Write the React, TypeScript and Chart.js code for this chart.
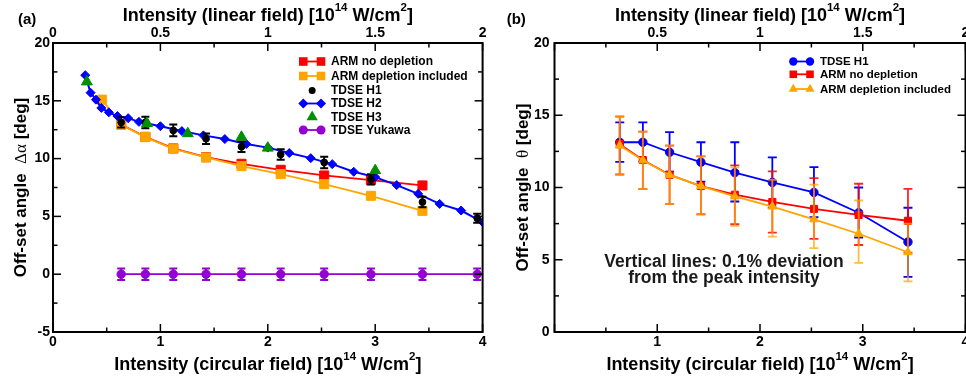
import React, { useEffect, useRef } from 'react';
import { Chart, registerables } from 'chart.js';

Chart.register(...registerables);

const FONT = '"Liberation Sans", Arial, Helvetica, sans-serif';
const SERIF = '"Liberation Serif", "DejaVu Serif", serif';

// ---------------- Panel (a) data ----------------
const aArmX = [0.635, 0.86, 1.12, 1.425, 1.755, 2.12, 2.525, 2.96, 3.44];
const aArmNoDep = [12.95, 11.88, 10.88, 10.12, 9.55, 9.03, 8.54, 8.14, 7.68];
const aArmDepX = [0.455, 0.635, 0.86, 1.12, 1.425, 1.755, 2.12, 2.525, 2.96, 3.44];
const aArmDep = [15.1, 12.93, 11.86, 10.85, 10.1, 9.35, 8.66, 7.79, 6.78, 5.48];
const aH1X = [0.635, 0.86, 1.12, 1.425, 1.755, 2.12, 2.525, 2.96, 3.44, 3.95];
const aH1 = [13.13, 13.13, 12.44, 11.72, 11.03, 10.36, 9.67, 8.2, 6.24, 4.84];
const aH1Err = [0.45, 0.5, 0.5, 0.45, 0.45, 0.45, 0.5, 0.45, 0.45, 0.4];
const aH2X = [0.3, 0.35, 0.4, 0.45, 0.52, 0.6, 0.7, 0.8, 1.0, 1.2, 1.4, 1.6, 1.8, 2.0, 2.2, 2.4, 2.6, 2.8, 3.0, 3.2, 3.4, 3.6, 3.8, 4.0];
const aH2 = [17.22, 15.7, 15.1, 14.38, 14.0, 13.68, 13.5, 13.18, 12.8, 12.38, 12.01, 11.69, 11.26, 10.95, 10.48, 10.04, 9.52, 8.86, 8.4, 7.71, 6.95, 6.08, 5.51, 4.5];
const aH3X = [0.315, 0.875, 1.255, 1.755, 2.0, 3.0];
const aH3 = [16.65, 13.05, 12.17, 11.86, 10.92, 8.97];
const aYukX = [0.635, 0.86, 1.12, 1.425, 1.755, 2.12, 2.525, 2.96, 3.44, 3.95];
const aYuk = [0, 0, 0, 0, 0, 0, 0, 0, 0, 0];
const aYukErr = [0.5, 0.5, 0.5, 0.5, 0.5, 0.5, 0.5, 0.5, 0.5, 0.5];

// ---------------- Panel (b) data ----------------
const bX = [0.635, 0.86, 1.12, 1.425, 1.755, 2.12, 2.525, 2.96, 3.44];
const bH1 = [13.13, 13.13, 12.44, 11.75, 11.03, 10.35, 9.66, 8.25, 6.23];
const bH1Lo = [11.78, 11.8, 11.1, 10.4, 9.03, 8.6, 7.94, 6.54, 3.82];
const bH1Hi = [14.51, 14.51, 13.83, 13.13, 13.13, 12.09, 11.41, 10.0, 8.6];
const bArmNoDep = [13.0, 11.9, 10.88, 10.1, 9.5, 9.0, 8.52, 8.1, 7.7];
const bArmNoDepLo = [10.9, 9.89, 8.87, 8.15, 7.46, 6.88, 6.44, 6.02, 5.5];
const bArmNoDepHi = [14.9, 13.87, 12.9, 12.15, 11.53, 11.11, 10.65, 10.26, 9.9];
const bArmDep = [12.9, 11.88, 10.87, 10.1, 9.38, 8.68, 7.8, 6.8, 5.52];
const bArmDepLo = [10.9, 9.89, 8.87, 8.15, 7.34, 6.6, 5.8, 4.79, 3.51];
const bArmDepHi = [14.93, 13.87, 12.92, 12.15, 11.39, 10.53, 10.2, 9.1, 7.5];

// ---------------- Axis ticks ----------------
const circTicksA = { min: 0, max: 4, step: 1 };
const linTicks = { min: 0, max: 2, step: 0.5 };
const yTicksA = { min: -5, max: 20, step: 5 };
const yTicksB = { min: 0, max: 20, step: 5 };

const RED = '#ff0000';
const ORANGE = '#ffa500';
const BLUE = '#0000ff';
const GREEN = '#009000';
const BLACK = '#000000';
const PURPLE = '#9400d3';

const bold = (px: number) => `bold ${px}px ${FONT}`;

function pts(xs: number[], ys: number[]) {
  return xs.map((x, i) => ({ x, y: ys[i] }));
}

function series(label: string, xs: number[], ys: number[], color: string, style: string, r: number, line: boolean, order: number, extra: any = {}) {
  return {
    label,
    data: pts(xs, ys),
    showLine: line,
    borderColor: color,
    backgroundColor: color,
    borderWidth: 1.8,
    pointStyle: style,
    pointRadius: r,
    pointBackgroundColor: color,
    pointBorderColor: color,
    pointBorderWidth: 1,
    order,
    ...extra,
  };
}

type Part = { text: string; font: string; dy?: number };

function drawRich(ctx: CanvasRenderingContext2D, parts: Part[], cx: number, baseline: number) {
  let total = 0;
  parts.forEach((p) => { ctx.font = p.font; total += ctx.measureText(p.text).width; });
  let x = cx - total / 2;
  ctx.textAlign = 'left';
  ctx.textBaseline = 'alphabetic';
  parts.forEach((p) => {
    ctx.font = p.font;
    ctx.fillText(p.text, x, baseline + (p.dy || 0));
    x += ctx.measureText(p.text).width;
  });
}

function intensityParts(kind: string): Part[] {
  return [
    { text: `Intensity (${kind} field) [10`, font: bold(18) },
    { text: '14', font: bold(11.5), dy: -10.5 },
    { text: ' W/cm', font: bold(18) },
    { text: '2', font: bold(11.5), dy: -10.5 },
    { text: ']', font: bold(18) },
  ];
}

function drawMarker(ctx: CanvasRenderingContext2D, style: string, x: number, y: number, r: number, color: string) {
  ctx.fillStyle = color;
  ctx.beginPath();
  if (style === 'circle') ctx.arc(x, y, r, 0, Math.PI * 2);
  else if (style === 'rect') ctx.rect(x - r, y - r, 2 * r, 2 * r);
  else if (style === 'rectRot') {
    ctx.moveTo(x, y - r); ctx.lineTo(x + r, y); ctx.lineTo(x, y + r); ctx.lineTo(x - r, y); ctx.closePath();
  } else if (style === 'triangle') {
    ctx.moveTo(x, y - r); ctx.lineTo(x + r * 0.866, y + r * 0.5); ctx.lineTo(x - r * 0.866, y + r * 0.5); ctx.closePath();
  }
  ctx.fill();
}

const panelPlugin = {
  id: 'panel',
  beforeDatasetDraw(chart: any, args: any) {
    const ds: any = chart.data.datasets[args.index];
    if (!ds.errLo) return;
    const xs = chart.scales.x;
    const ys = chart.scales.y;
    const ctx: CanvasRenderingContext2D = chart.ctx;
    const cap = ds.errCap;
    ctx.save();
    ctx.strokeStyle = ds.errColor;
    ctx.lineWidth = ds.errWidth;
    ctx.beginPath();
    ds.data.forEach((p: any, i: number) => {
      const px = xs.getPixelForValue(p.x);
      const y1 = ys.getPixelForValue(ds.errLo[i]);
      const y2 = ys.getPixelForValue(ds.errHi[i]);
      ctx.moveTo(px, y1); ctx.lineTo(px, y2);
      ctx.moveTo(px - cap, y1); ctx.lineTo(px + cap, y1);
      ctx.moveTo(px - cap, y2); ctx.lineTo(px + cap, y2);
    });
    ctx.stroke();
    ctx.restore();
  },
  afterDraw(chart: any, _a: any, opts: any) {
    const ctx: CanvasRenderingContext2D = chart.ctx;
    const ca = chart.chartArea;
    ctx.save();
    // frame
    ctx.strokeStyle = '#000';
    ctx.lineWidth = 2;
    ctx.strokeRect(ca.left, ca.top, ca.right - ca.left, ca.bottom - ca.top);
    // inward ticks
    ctx.lineWidth = 1.5;
    for (const t of opts.ticks) {
      const s = chart.scales[t.axis];
      const n = Math.round((s.max - s.min) / t.minor);
      for (let k = 0; k <= n; k++) {
        const v = s.min + k * t.minor;
        const q = v / t.major;
        const major = Math.abs(q - Math.round(q)) < 1e-6;
        const len = major ? 8 : 4.5;
        const p = s.getPixelForValue(v);
        ctx.beginPath();
        if (t.side === 'bottom') { ctx.moveTo(p, ca.bottom); ctx.lineTo(p, ca.bottom - len); }
        if (t.side === 'top') { ctx.moveTo(p, ca.top); ctx.lineTo(p, ca.top + len); }
        if (t.side === 'left') { ctx.moveTo(ca.left, p); ctx.lineTo(ca.left + len, p); }
        if (t.side === 'right') { ctx.moveTo(ca.right, p); ctx.lineTo(ca.right - len, p); }
        ctx.stroke();
      }
    }
    // titles
    ctx.fillStyle = '#000';
    const cx = (ca.left + ca.right) / 2;
    drawRich(ctx, intensityParts('linear'), cx, opts.topBaseline);
    drawRich(ctx, intensityParts('circular'), cx, opts.bottomBaseline);
    ctx.save();
    ctx.translate(opts.yTitleX, (ca.top + ca.bottom) / 2);
    ctx.rotate(-Math.PI / 2);
    drawRich(ctx, [
      { text: 'Off-set angle  ', font: bold(17) },
      { text: opts.greek, font: `17px ${SERIF}` },
      { text: ' [deg]', font: bold(17) },
    ], 0, 0);
    ctx.restore();
    // panel letter
    ctx.font = bold(15);
    ctx.textAlign = 'left';
    ctx.textBaseline = 'alphabetic';
    ctx.fillText(opts.letter, opts.letterX, 24);
    // legend
    const lg = opts.legend;
    for (const it of lg.items) {
      if (it.line) {
        ctx.strokeStyle = it.color;
        ctx.lineWidth = 1.8;
        ctx.beginPath();
        ctx.moveTo(lg.x1, it.y); ctx.lineTo(lg.x2, it.y);
        ctx.stroke();
        drawMarker(ctx, it.style, lg.x1, it.y, it.r, it.color);
        drawMarker(ctx, it.style, lg.x2, it.y, it.r, it.color);
      } else {
        drawMarker(ctx, it.style, (lg.x1 + lg.x2) / 2, it.y, it.r, it.color);
      }
      ctx.fillStyle = '#000';
      ctx.font = bold(lg.size);
      ctx.textAlign = 'left';
      ctx.textBaseline = 'middle';
      ctx.fillText(it.label, lg.tx, it.y + 0.5);
    }
    // annotation
    if (opts.note) {
      ctx.fillStyle = '#1a1a1a';
      ctx.font = bold(17.5);
      ctx.textAlign = 'center';
      ctx.textBaseline = 'alphabetic';
      opts.note.lines.forEach((l: string, i: number) => ctx.fillText(l, opts.note.x, opts.note.y[i]));
    }
    ctx.restore();
  },
};

function tickOpts(t: { step: number }, padding: number, hideZero: boolean) {
  return {
    stepSize: t.step,
    autoSkip: false,
    maxRotation: 0,
    padding,
    color: '#000',
    font: { family: FONT, size: 14, weight: 'bold' },
    callback: (v: number) => (hideZero && v === 0 ? '' : String(v)),
  };
}

function makeScales(yT: any, yWidth: number, hideZero: boolean, yPad: number) {
  const common = { grid: { display: false, drawTicks: false }, border: { display: false } };
  return {
    x: {
      type: 'linear', position: 'bottom', min: circTicksA.min, max: circTicksA.max,
      ticks: tickOpts(circTicksA, 2, hideZero), ...common,
      afterFit: (s: any) => { s.height = 47; },
    },
    x2: {
      type: 'linear', position: 'top', min: linTicks.min, max: linTicks.max,
      ticks: tickOpts(linTicks, 1, hideZero), ...common,
      afterFit: (s: any) => { s.height = 43; },
    },
    y: {
      type: 'linear', position: 'left', min: yT.min, max: yT.max,
      ticks: tickOpts(yT, yPad, false), ...common,
      afterFit: (s: any) => { s.width = yWidth; },
    },
  };
}

function configA(): any {
  return {
    type: 'scatter',
    data: {
      datasets: [
        series('ARM no depletion', aArmX, aArmNoDep, RED, 'rect', 6.4, true, 6),
        series('ARM depletion included', aArmDepX, aArmDep, ORANGE, 'rect', 6.4, true, 5),
        series('TDSE H2', aH2X, aH2, BLUE, 'rectRot', 4.5, true, 4, { borderWidth: 2 }),
        series('TDSE H1', aH1X, aH1, BLACK, 'circle', 3.4, false, 3, {
          errLo: aH1.map((v, i) => v - aH1Err[i]), errHi: aH1.map((v, i) => v + aH1Err[i]),
          errColor: BLACK, errWidth: 2, errCap: 4,
        }),
        series('TDSE H3', aH3X, aH3, GREEN, 'triangle', 6.3, false, 2),
        series('TDSE Yukawa', aYukX, aYuk, PURPLE, 'circle', 4.2, true, 1, {
          errLo: aYuk.map((v, i) => v - aYukErr[i]), errHi: aYuk.map((v, i) => v + aYukErr[i]),
          errColor: PURPLE, errWidth: 2, errCap: 4,
        }),
      ],
    },
    options: {
      responsive: false, maintainAspectRatio: false, devicePixelRatio: 1, animation: false, events: [],
      layout: { padding: { left: 0, right: 7, top: 0, bottom: 0 } },
      scales: makeScales(yTicksA, 53, false, 3),
      plugins: {
        legend: { display: false }, tooltip: { enabled: false },
        panel: {
          ticks: [
            { axis: 'x', side: 'bottom', major: 1, minor: 0.5 },
            { axis: 'x2', side: 'top', major: 0.5, minor: 0.25 },
            { axis: 'y', side: 'left', major: 5, minor: 2.5 },
            { axis: 'y', side: 'right', major: 5, minor: 2.5 },
          ],
          topBaseline: 21, bottomBaseline: 370, yTitleX: 26, greek: 'Δα',
          letter: '(a)', letterX: 18,
          legend: {
            x1: 303.3, x2: 321, tx: 331, size: 12,
            items: [
              { label: 'ARM no depletion', color: RED, style: 'rect', r: 4.3, line: true, y: 61.5 },
              { label: 'ARM depletion included', color: ORANGE, style: 'rect', r: 4.3, line: true, y: 76 },
              { label: 'TDSE H1', color: BLACK, style: 'circle', r: 3.5, line: false, y: 90.5 },
              { label: 'TDSE H2', color: BLUE, style: 'rectRot', r: 5, line: true, y: 103.5 },
              { label: 'TDSE H3', color: GREEN, style: 'triangle', r: 6.5, line: false, y: 117 },
              { label: 'TDSE Yukawa', color: PURPLE, style: 'circle', r: 4.5, line: true, y: 130 },
            ],
          },
        },
      },
    },
    plugins: [panelPlugin],
  };
}

function configB(): any {
  return {
    type: 'scatter',
    data: {
      datasets: [
        series('TDSE H1', bX, bH1, BLUE, 'circle', 4.2, true, 3, {
          errLo: bH1Lo, errHi: bH1Hi, errColor: BLUE, errWidth: 1.8, errCap: 4.5,
        }),
        series('ARM no depletion', bX, bArmNoDep, RED, 'rect', 5, true, 2, {
          errLo: bArmNoDepLo, errHi: bArmNoDepHi, errColor: 'rgba(255,0,0,0.85)', errWidth: 1.8, errCap: 4.5,
        }),
        series('ARM depletion included', bX, bArmDep, ORANGE, 'triangle', 5, true, 1, {
          errLo: bArmDepLo, errHi: bArmDepHi, errColor: 'rgba(255,165,0,0.75)', errWidth: 1.8, errCap: 4.5,
        }),
      ],
    },
    options: {
      responsive: false, maintainAspectRatio: false, devicePixelRatio: 1, animation: false, events: [],
      layout: { padding: { left: 0, right: 14.5, top: 0, bottom: 0 } },
      scales: makeScales(yTicksB, 64.5, true, 5),
      plugins: {
        legend: { display: false }, tooltip: { enabled: false },
        panel: {
          ticks: [
            { axis: 'x', side: 'bottom', major: 1, minor: 0.5 },
            { axis: 'x2', side: 'top', major: 0.5, minor: 0.25 },
            { axis: 'y', side: 'left', major: 5, minor: 2.5 },
            { axis: 'y', side: 'right', major: 5, minor: 2.5 },
          ],
          topBaseline: 21, bottomBaseline: 370, yTitleX: 37.7, greek: 'θ',
          letter: '(b)', letterX: 16.7,
          legend: {
            x1: 303.3, x2: 320, tx: 330, size: 11.5,
            items: [
              { label: 'TDSE H1', color: BLUE, style: 'circle', r: 4.2, line: true, y: 61.5 },
              { label: 'ARM no depletion', color: RED, style: 'rect', r: 3.8, line: true, y: 74.3 },
              { label: 'ARM depletion included', color: ORANGE, style: 'triangle', r: 5.3, line: true, y: 89 },
            ],
          },
          note: { lines: ['Vertical lines: 0.1% deviation', 'from the peak intensity'], x: 234, y: [266.7, 283.3] },
        },
      },
    },
    plugins: [panelPlugin],
  };
}

function Panel({ make, left, width }: { make: () => any; left: number; width: number }) {
  const ref = useRef<HTMLCanvasElement>(null);
  useEffect(() => {
    const chart = new Chart(ref.current as HTMLCanvasElement, make());
    return () => chart.destroy();
  }, []);
  return (
    <canvas
      ref={ref}
      width={width}
      height={379}
      style={{ position: 'absolute', left, top: 0, width, height: 379 }}
    />
  );
}

export default function App() {
  return (
    <div style={{ position: 'fixed', left: 0, top: 0, width: 966, height: 379, overflow: 'hidden', background: '#fff' }}>
      <Panel make={configA} left={0} width={490} />
      <Panel make={configB} left={490} width={490} />
    </div>
  );
}
